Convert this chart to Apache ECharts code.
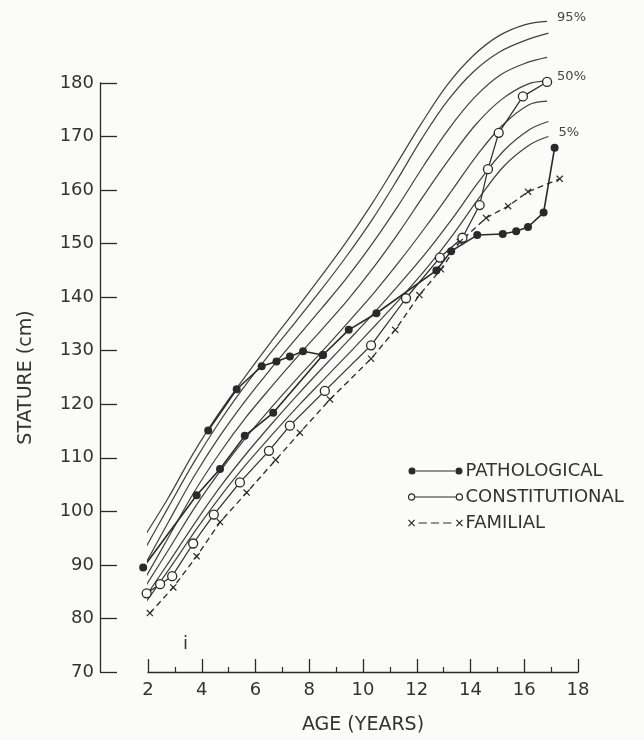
<!DOCTYPE html>
<html>
<head>
<meta charset="utf-8">
<script src="https://cdn.jsdelivr.net/npm/echarts@6/dist/echarts.min.js"></script>
<style>
html,body{margin:0;padding:0;background:#fbfbfa;}
#chart{width:644px;height:740px;}
</style>
</head>
<body>
<div id="chart"></div>
<script>
// ---- percentile reference curves [age, stature] ----
const p95 = [[1.80,94.8],[2.74,102.4],[3.67,110.7],[4.61,118.1],[5.56,124.8],[6.51,131.2],[7.46,137.4],[8.41,143.7],[9.36,150.2],[10.30,157.2],[11.24,164.8],[12.18,172.5],[13.13,179.6],[14.08,185.0],[15.05,188.8],[16.04,190.9],[16.85,191.5]];
const p90 = [[1.82,92.4],[2.75,100.7],[3.69,109.0],[4.63,116.5],[5.57,123.2],[6.53,129.4],[7.48,135.3],[8.43,141.3],[9.38,147.6],[10.33,154.4],[11.27,161.9],[12.20,169.7],[13.15,176.7],[14.11,182.1],[15.08,185.8],[16.06,188.0],[16.9,189.3]];
const p75 = [[1.84,89.6],[2.77,98.1],[3.71,106.5],[4.65,113.9],[5.60,120.5],[6.55,126.5],[7.50,132.2],[8.46,137.9],[9.41,143.7],[10.36,150.1],[11.31,157.1],[12.25,164.5],[13.19,171.4],[14.15,177.3],[15.11,181.5],[16.10,183.8],[16.85,184.8]];
const p50 = [[1.86,87.2],[2.80,95.5],[3.73,103.7],[4.67,110.9],[5.62,117.4],[6.58,123.2],[7.53,128.7],[8.49,134.1],[9.45,139.6],[10.40,145.6],[11.35,152.2],[12.29,159.2],[13.24,166.0],[14.19,172.2],[15.15,176.9],[16.13,179.8],[16.85,180.4]];
const p25 = [[1.87,85.7],[2.81,93.2],[3.75,100.8],[4.70,107.6],[5.65,113.8],[6.61,119.5],[7.56,124.9],[8.52,130.1],[9.48,135.5],[10.44,141.0],[11.39,146.9],[12.34,153.2],[13.29,159.8],[14.24,166.5],[15.19,172.1],[16.16,175.9],[16.85,176.6]];
const p10 = [[1.89,83.9],[2.83,90.9],[3.78,98.1],[4.72,104.8],[5.68,110.9],[6.63,116.5],[7.59,121.9],[8.55,127.1],[9.51,132.2],[10.47,137.4],[11.42,142.8],[12.38,148.5],[13.33,154.7],[14.28,161.4],[15.23,167.3],[16.20,171.3],[16.9,172.8]];
const p5  = [[1.90,82.9],[2.84,89.6],[3.79,96.6],[4.74,103.1],[5.69,109.0],[6.65,114.5],[7.61,119.8],[8.57,124.8],[9.53,129.8],[10.49,134.9],[11.45,140.1],[12.40,145.6],[13.35,151.7],[14.30,158.4],[15.25,164.5],[16.22,168.5],[16.9,170.0]];

// ---- patient series [age, stature] ----
const pathologicalA = [[1.82,89.5],[3.81,103.0],[4.68,107.9],[5.60,114.1],[6.66,118.4],[8.51,129.2],[9.47,133.9],[10.50,137.0],[12.73,145.0],[13.28,148.6],[14.25,151.6],[15.20,151.8],[15.70,152.3],[16.14,153.1],[16.72,155.8],[17.13,167.9]];
const pathologicalB = [[4.24,115.1],[5.30,122.8],[6.23,127.1],[6.78,128.0],[7.28,128.9],[7.77,129.9],[8.51,129.2]];
const constitutional = [[1.95,84.7],[2.45,86.4],[2.90,87.9],[3.68,94.0],[4.45,99.4],[5.42,105.4],[6.50,111.3],[7.28,116.0],[8.58,122.5],[10.30,131.0],[11.60,139.8],[12.86,147.4],[13.70,151.1],[14.34,157.2],[14.65,163.9],[15.05,170.7],[15.95,177.5],[16.85,180.2]];
const familial = [[2.07,81.0],[2.94,85.8],[3.81,91.6],[4.68,98.0],[5.67,103.5],[6.75,109.6],[7.65,114.7],[8.77,120.9],[10.30,128.5],[11.20,133.9],[12.10,140.4],[12.90,145.2],[13.60,150.3],[14.58,154.8],[15.40,157.0],[16.14,159.7],[17.32,162.1]];

const xTicks = [2,4,6,8,10,12,14,16,18];
const yTicks = [70,80,90,100,110,120,130,140,150,160,170,180];
const seriesNames = ['PATHOLOGICAL','CONSTITUTIONAL','FAMILIAL'];

const INK = '#2a2a2a';
const BG = '#fbfbfa';
const FONT = 'DejaVu Sans';

const curveDefs = [
  {name:'95%', data:p95, label:'95%'},
  {name:'90%', data:p90},
  {name:'75%', data:p75},
  {name:'50%', data:p50, label:'50%'},
  {name:'25%', data:p25},
  {name:'10%', data:p10},
  {name:'5%',  data:p5, label:'5%'}
];

const curveSeries = curveDefs.map(c => ({
  name: c.name,
  type: 'line',
  data: c.data,
  smooth: 0.35,
  showSymbol: false,
  clip: false,
  silent: true,
  z: 2,
  lineStyle: {color: '#404040', width: 1.2},
  endLabel: c.label ? {
    show: true, formatter: c.label, color: '#444', fontFamily: FONT,
    fontSize: 13, distance: 10, offset: [0, -4]
  } : {show: false}
}));

const xPath = 'path://M0,1.2L1.2,0L10,8.8L8.8,10Z M8.8,0L10,1.2L1.2,10L0,8.8Z';

function patientLine(name, data, kind) {
  const s = {
    name: name, type: 'line', data: data, clip: false, z: 5,
    showSymbol: true, symbolSize: 8, smooth: false,
    lineStyle: {color: INK, width: 1.6}
  };
  if (kind === 'filled') {
    s.symbol = 'circle';
    s.itemStyle = {color: INK, borderColor: INK, borderWidth: 0};
  } else if (kind === 'open') {
    s.symbol = 'circle';
    s.symbolSize = 9;
    s.itemStyle = {color: BG, borderColor: INK, borderWidth: 1.3};
    s.lineStyle = {color: INK, width: 1.2};
  } else {
    s.symbol = xPath;
    s.symbolSize = 7;
    s.itemStyle = {color: INK};
    s.lineStyle = {color: INK, width: 1.3, type: [6, 4]};
  }
  return s;
}

const legendFilled = 'path://M0.5,4a3.5,3.5 0 1,0 7,0a3.5,3.5 0 1,0 -7,0Z M7,3.4H47V4.6H7Z M46.5,4a3.5,3.5 0 1,0 7,0a3.5,3.5 0 1,0 -7,0Z';
const legendOpen = 'path://M1,4a3,3 0 1,0 6,0a3,3 0 1,0 -6,0Z M7,4H47 M47,4a3,3 0 1,0 6,0a3,3 0 1,0 -6,0Z';
const legendX = 'path://M0,1L6,7M0,7L6,1 M10,4H18 M22,4H30 M34,4H42 M47,1L53,7M47,7L53,1';

const chart = echarts.init(document.getElementById('chart'), null, {renderer: 'canvas'});
chart.setOption({
  backgroundColor: BG,
  animation: false,
  grid: {left: 148, right: 66, top: 83, bottom: 65},
  xAxis: {
    type: 'value', min: 2, max: 18, interval: 2,
    name: 'AGE (YEARS)', nameLocation: 'middle', nameGap: 44,
    nameTextStyle: {fontFamily: FONT, fontSize: 19, color: '#333'},
    axisLine: {lineStyle: {color: INK, width: 1.3}},
    axisTick: {inside: true, length: 13, lineStyle: {color: INK, width: 1.3}},
    minorTick: {show: true, splitNumber: 2, length: 5, lineStyle: {color: INK, width: 1.2}},
    axisLabel: {fontFamily: FONT, fontSize: 18, color: '#333', margin: 9,
      formatter: v => xTicks.includes(v) ? String(v) : ''},
    splitLine: {show: false}
  },
  yAxis: {
    type: 'value', min: 70, max: 180, interval: 10, offset: 48,
    name: 'STATURE (cm)', nameLocation: 'middle', nameGap: 64, nameRotate: 90,
    nameTextStyle: {fontFamily: FONT, fontSize: 19, color: '#333'},
    axisLine: {show: true, lineStyle: {color: INK, width: 1.3}},
    axisTick: {show: true, inside: true, length: 17, lineStyle: {color: INK, width: 1.3}},
    axisLabel: {fontFamily: FONT, fontSize: 18, color: '#333', margin: 6,
      formatter: v => yTicks.includes(v) ? String(v) : ''},
    splitLine: {show: false}
  },
  legend: {
    orient: 'vertical', left: 401, top: 457, itemGap: 8,
    itemWidth: 54, itemHeight: 8,
    textStyle: {fontFamily: FONT, fontSize: 18, color: '#333', padding: [0,0,0,-2]},
    data: [
      {name: seriesNames[0], icon: legendFilled, itemStyle: {color: INK, borderWidth: 0}},
      {name: seriesNames[1], icon: legendOpen, itemStyle: {color: 'none', borderColor: INK, borderWidth: 1.2}},
      {name: seriesNames[2], icon: legendX, itemStyle: {color: 'none', borderColor: INK, borderWidth: 1.2}}
    ]
  },
  graphic: [{
    type: 'text', left: 183, top: 635, silent: true,
    style: {text: 'i', font: '18px "DejaVu Sans"', fill: '#333'}
  }],
  series: curveSeries.concat([
    patientLine(seriesNames[0], pathologicalA, 'filled'),
    patientLine(seriesNames[0], pathologicalB, 'filled'),
    patientLine(seriesNames[1], constitutional, 'open'),
    patientLine(seriesNames[2], familial, 'x')
  ])
});
</script>
</body>
</html>
